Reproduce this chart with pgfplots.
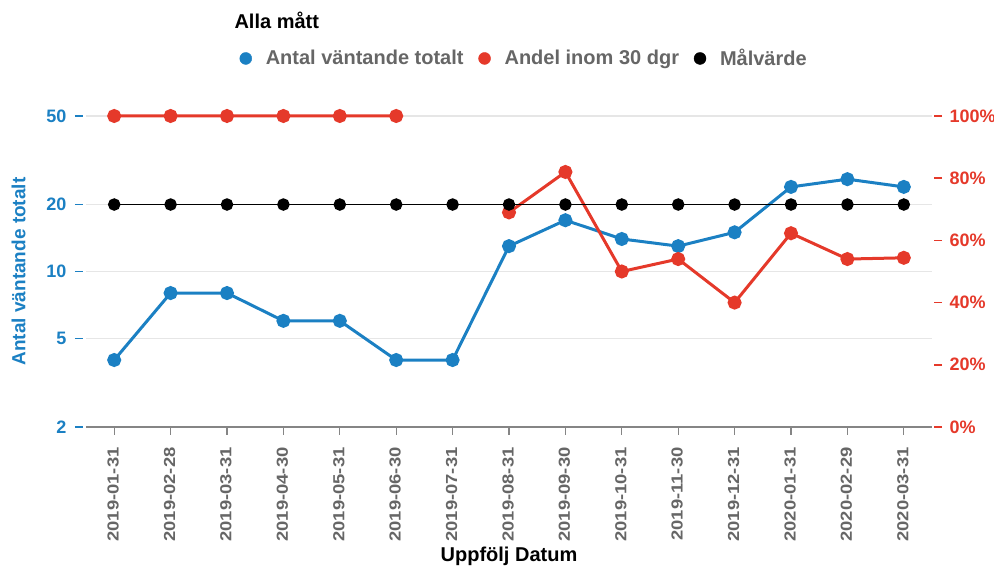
\documentclass[border=0pt]{standalone}
\usepackage{fontspec}
\setmainfont{Liberation Sans}
\newfontfamily\xtf{Liberation Sans}[FakeStretch=1.15]
\usepackage{pgfplots}
\pgfplotsset{compat=1.18}
\definecolor{cblue}{HTML}{1B80C3}
\definecolor{cred}{HTML}{E5392A}
\definecolor{cgray}{HTML}{666666}
\definecolor{cgrid}{HTML}{E6E6E6}
\begin{document}
\begin{tikzpicture}[x=1pt,y=1pt]
\path[use as bounding box] (0,0) rectangle (994,567);
\pgfplotsset{
  base/.style={
    at={(86pt,140pt)}, anchor=south west,
    scale only axis, width=846pt, height=311pt,
    xmin=-0.5, xmax=14.5,
    clip=false,
  }
}
% left axis: grid, x axis, blue series
\begin{axis}[base,
  ymode=log, ymin=2, ymax=50,
  ytick={2,5,10,20,50}, yticklabels={2,5,10,20,50},
  yminorticks=false,
  axis x line*=bottom, axis y line*=left,
  axis line style={-},
  y axis line style={draw=none},
  x axis line style={draw=cgray!80, line width=1.6pt},
  ymajorgrids, major grid style={cgrid, line width=1.2pt},
  tick align=outside, major tick length=8pt,
  every y tick/.style={cblue, line width=1.6pt, xshift=-3pt},
  every x tick/.style={cgray!80, line width=1.2pt},
  xtick={0,...,14},
  xticklabels={2019-01-31,2019-02-28,2019-03-31,2019-04-30,2019-05-31,2019-06-30,2019-07-31,2019-08-31,2019-09-30,2019-10-31,2019-11-30,2019-12-31,2020-01-31,2020-02-29,2020-03-31},
  xticklabel style={rotate=90, anchor=east, font=\xtf\bfseries\fontsize{16}{16}\selectfont, text=cgray, xshift=-9pt, yshift=1pt},
  yticklabel style={font=\bfseries\fontsize{18}{18}\selectfont, text=cblue, xshift=-8pt},
  xlabel={Uppfölj Datum},
  xlabel style={font=\bfseries\fontsize{20}{20}\selectfont, text=black, yshift=2pt},
  ylabel={Antal väntande totalt},
  ylabel style={font=\bfseries\fontsize{19}{19}\selectfont, text=cblue, yshift=14pt},
  legend columns=3,
  legend style={draw=none, fill=none, at={(rel axis cs:0.178,1.185)}, anchor=west,
    font=\bfseries\fontsize{20}{20}\selectfont, text=cgray,
    /tikz/every odd column/.append style={column sep=12pt},
    /tikz/every even column/.append style={column sep=13pt}},
]
\addplot[cblue, line width=3pt, mark=*, mark size=5.5pt, forget plot] coordinates {
(0,4) (1,8) (2,8) (3,6) (4,6) (5,4) (6,4) (7,13) (8,17) (9,14) (10,13) (11,15) (12,24) (13,26) (14,24)};
\addlegendimage{only marks, mark=*, mark size=6pt, cblue}
\addlegendentry{Antal väntande totalt}
\addlegendimage{only marks, mark=*, mark size=6pt, cred}
\addlegendentry{Andel inom 30 dgr}
\addlegendimage{only marks, mark=*, mark size=6pt, black}
\addlegendentry{Målvärde}
\end{axis}
% right axis: red series
\begin{axis}[base,
  ymin=0, ymax=100,
  axis x line=none, axis y line*=right,
  y axis line style={draw=none},
  tick align=outside, major tick length=8pt,
  ytick={0,20,40,60,80,100},
  yticklabels={0\%,20\%,40\%,60\%,80\%,100\%},
  every y tick/.style={cred, line width=1.6pt, xshift=2pt},
  yticklabel style={font=\bfseries\fontsize{18}{18}\selectfont, text=cred, xshift=6pt},
  unbounded coords=jump,
]
\addplot[cred, line width=3pt, mark=*, mark size=5.5pt] coordinates {
(0,100) (1,100) (2,100) (3,100) (4,100) (5,100) (6,nan) (7,69) (8,82) (9,50) (10,54) (11,40) (12,62.3) (13,54) (14,54.4)};
\end{axis}
% target line on top
\begin{axis}[base,
  ymode=log, ymin=2, ymax=50, hide axis,
]
\addplot[black, line width=1.5pt, mark=*, mark size=5.5pt] coordinates {
(0,20) (1,20) (2,20) (3,20) (4,20) (5,20) (6,20) (7,20) (8,20) (9,20) (10,20) (11,20) (12,20) (13,20) (14,20)};
\end{axis}
\node[anchor=west, font=\bfseries\fontsize{20}{20}\selectfont] at (231,547) {Alla mått};
\end{tikzpicture}
\end{document}
